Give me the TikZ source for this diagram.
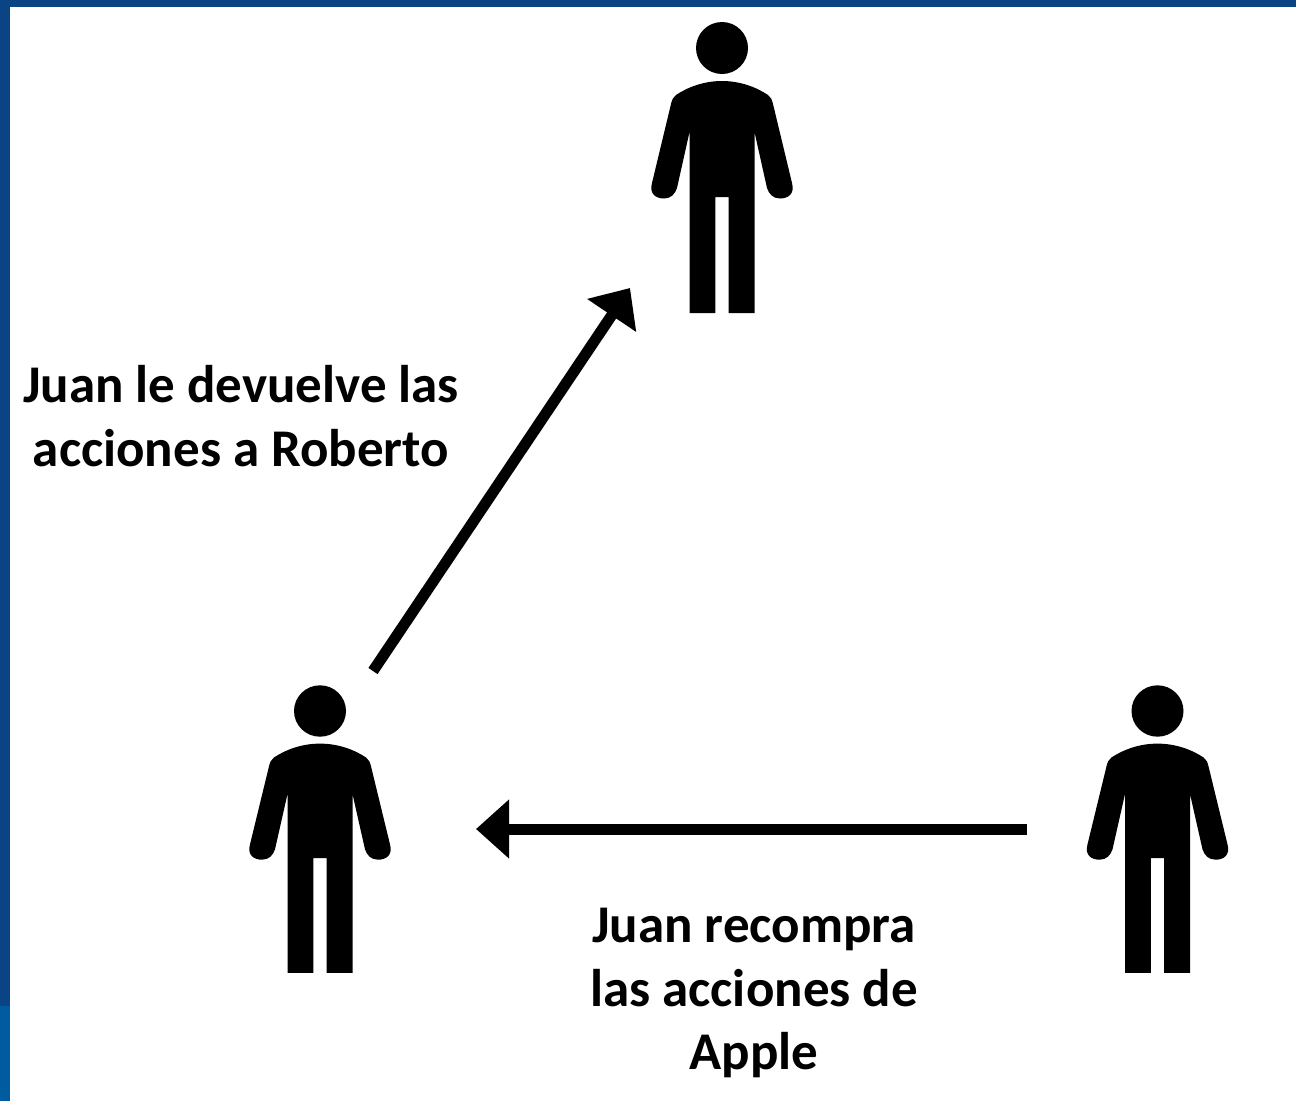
\documentclass[tikz,border=0pt]{standalone}
\usepackage{fontspec}
\setmainfont{Carlito}
\usetikzlibrary{arrows.meta}
\definecolor{navy}{HTML}{0B4484}
\definecolor{bluelow}{HTML}{005C9F}
\tikzset{
  x=1pt,y=-1pt,
  flow/.style={line width=11pt,-{Triangle[length=33pt,width=57pt]}},
  lab/.style={font=\fontsize{53}{63.5}\selectfont\bfseries,align=center,text=black,inner sep=0pt},
  person/.pic={
    \fill[black] (0,0) circle[radius=26];
    \fill[black] (0,33) .. controls (-18,33) and (-34,39) .. (-46,47)
      .. controls (-49,49) and (-50,52) .. (-51,56)
      -- (-70,135) .. controls (-73,146) and (-66,150.5) .. (-58,150.5)
      .. controls (-51,150.5) and (-47,146) .. (-45,140)
      -- (-32.5,84) -- (-32.5,265) -- (-6.7,265) -- (-6.7,149) -- (6.7,149) -- (6.7,265) -- (32.5,265) -- (32.5,84)
      -- (45,140) .. controls (47,146) and (51,150.5) .. (58,150.5)
      .. controls (66,150.5) and (73,146) .. (70,135)
      -- (51,56) .. controls (50,52) and (49,49) .. (46,47)
      .. controls (34,39) and (18,33) .. (0,33) -- cycle;
  }
}
\begin{document}
\begin{tikzpicture}
\useasboundingbox (0,0) rectangle (1296,1101);
\fill[white] (0,0) rectangle (1296,1101);
\fill[navy] (0,0) rectangle (1296,7);
\fill[navy] (0,0) rectangle (10,1006);
\fill[bluelow] (0,1006) rectangle (10,1101);
\pic at (722,48) {person};
\pic[yscale=0.988] at (320,711) {person};
\pic[yscale=0.988] at (1157.5,711) {person};
\coordinate (a1s) at (373,671);
\coordinate (a1e) at (630,288);
\coordinate (a2s) at (1027,829);
\coordinate (a2e) at (476,829);
\draw[flow] (a1s) -- (a1e);
\draw[flow] (a2s) -- (a2e);
\node[lab] (t1) at (241,416) {Juan le devuelve las\\acciones a Roberto};
\node[lab] (t2) at (754,993) {Juan recompra\\las acciones de\\Apple};
\end{tikzpicture}
\end{document}
